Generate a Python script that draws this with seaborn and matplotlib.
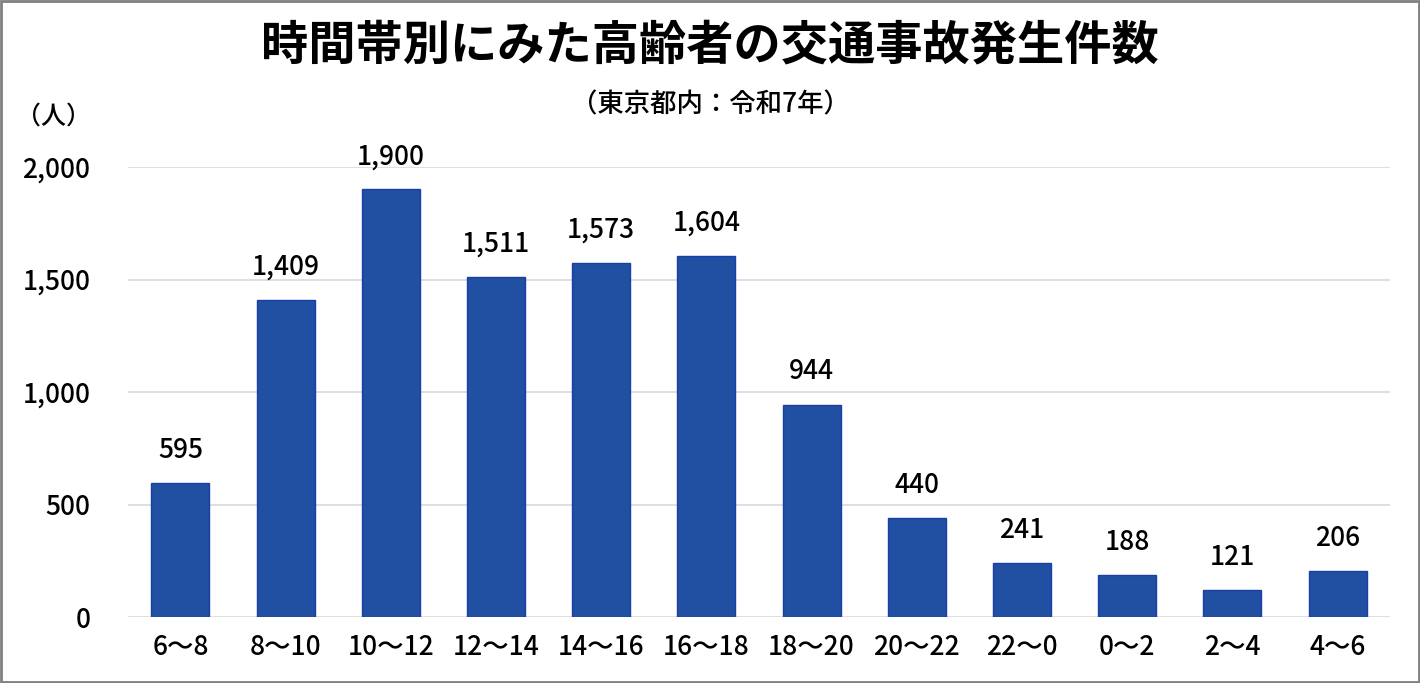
import matplotlib
matplotlib.use("Agg")
import matplotlib.pyplot as plt
import seaborn as sns
import pandas as pd

# data
time_bands = ["6～8", "8～10", "10～12", "12～14", "14～16", "16～18",
              "18～20", "20～22", "22～0", "0～2", "2～4", "4～6"]
accidents = [595, 1409, 1900, 1511, 1573, 1604, 944, 440, 241, 188, 121, 206]
y_ticks = [0, 500, 1000, 1500, 2000]

df = pd.DataFrame({"time": time_bands, "count": accidents})

sns.set_style("white")
plt.rcParams['font.family'] = ['Noto Sans CJK JP', 'DejaVu Sans']

fig = plt.figure(figsize=(14.2, 6.83), dpi=100)
ax = fig.add_axes([0.090, 0.0966, 0.889, 0.6589])

sns.barplot(data=df, x="time", y="count", color="#2150A3",
            saturation=1, width=0.55, edgecolor="#1B3FA8", linewidth=1,
            ax=ax, zorder=3)

ax.set_ylim(0, 2000)
ax.set_yticks(y_ticks)
ax.set_yticklabels([f"{v:,}" for v in y_ticks], fontsize=19, fontweight="medium")
for lab in ax.get_xticklabels():
    lab.set_fontsize(19)
    lab.set_fontweight("medium")
ax.yaxis.grid(True, color="#d9d9d9", linewidth=1.2, zorder=0)
ax.set_xlabel("")
ax.set_ylabel("")
ax.tick_params(axis="y", length=0, pad=27, colors="black")
ax.tick_params(axis="x", length=0, pad=12, colors="black")
for s in ["top", "right", "left", "bottom"]:
    ax.spines[s].set_visible(False)

# value labels
for i, v in enumerate(accidents):
    ax.text(i, v + 85, f"{v:,}", ha="center", va="bottom", fontsize=19,
            fontweight="medium", color="black")

fig.text(0.5, 0.934, "時間帯別にみた高齢者の交通事故発生件数",
         ha="center", va="center", fontsize=34, fontweight="bold",
         color="black")
fig.text(0.5, 0.846, "（東京都内：令和7年）", ha="center", va="center",
         fontsize=19, fontweight="medium", color="black")
fig.text(0.038, 0.829, "（人）", ha="center", va="center", fontsize=18,
         fontweight="medium", color="black")

# grey frame around the chart
fig.patches.append(plt.Rectangle((0.001, 0.002), 0.998, 0.996,
                                 transform=fig.transFigure, fill=False,
                                 edgecolor="#808080", linewidth=2))

fig.savefig("out.png", dpi=100)
